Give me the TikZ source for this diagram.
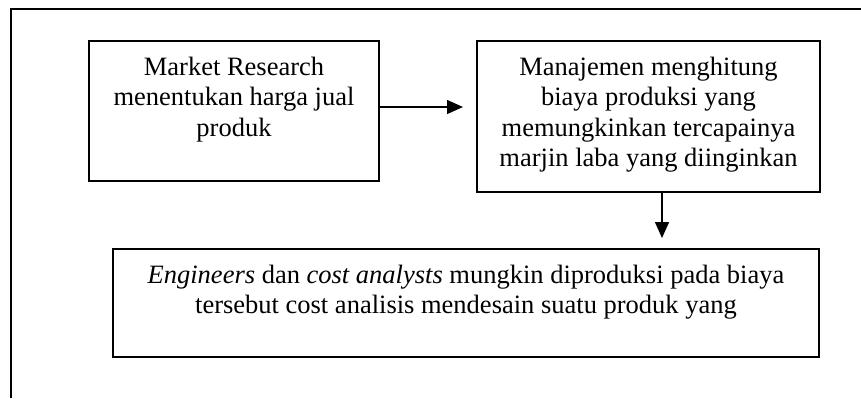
\documentclass[tikz,border=0pt]{standalone}
\usepackage{fontspec}
\setmainfont{Liberation Serif}
\usetikzlibrary{arrows.meta}

\newcommand{\boxtext}[3]{\parbox[c][#2][t]{#1}{\vspace*{8pt}\centering #3}}

\begin{document}
\begin{tikzpicture}[x=0.5pt, y=-0.5pt, >={Triangle[length=8pt,width=7pt]},
    box/.style={draw, line width=0.65pt, inner sep=0pt, font=\fontsize{13.25}{15.25}\selectfont}]
        \useasboundingbox (0, 0) rectangle (861, 398);
        \draw[line width=0.6pt] (11, 398) -- (11, 9) -- (861, 9);

        \node[box] (research) at (234, 111) {\boxtext{145pt}{70pt}{Market Research\\ menentukan harga jual\\ produk}};
        \node[box] (cost) at (648.5, 116.5) {\boxtext{171.5pt}{75.5pt}{Manajemen menghitung\\ biaya produksi yang\\ memungkinkan tercapainya\\ marjin laba yang diinginkan}};
        \node[box] (design) at (466, 303) {\boxtext{353pt}{54pt}{\emph{Engineers} dan \emph{cost analysts} mungkin diproduksi pada biaya\\ tersebut cost analisis mendesain suatu produk yang}};

        \coordinate (tip1) at (463, 107);
        \coordinate (tip2) at (662, 238);
        \draw[->, line width=0.7pt] (research.east |- tip1) -- (tip1);
        \draw[->, line width=0.7pt] (cost.south -| tip2) -- (tip2);
      \end{tikzpicture}
\end{document}
